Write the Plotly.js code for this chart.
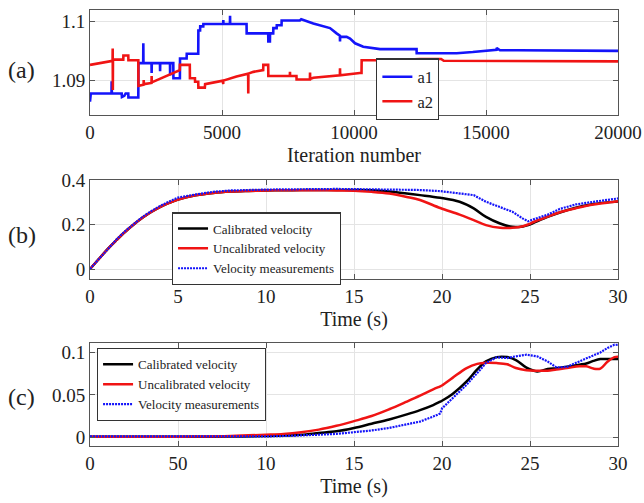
<!DOCTYPE html>
<html>
<head>
<meta charset="utf-8">
<script src="https://cdn.plot.ly/plotly-3.0.1.min.js"></script>
<style>html,body{margin:0;padding:0;background:#fff;}#chart{width:644px;height:503px;}</style>
</head>
<body>
<div id="chart"></div>
<script>
// ---------- Panel (a): parameter estimates vs iteration ----------
const iterA1 = [0,30,815,820,830,1200,1210,1300,1350,1450,1455,1830,1835,2015,2020,2025,2330,2335,2340,2650,2655,2660,3030,3035,3040,3155,3160,3405,3410,3660,3665,4100,4105,4170,4175,4290,4295,5045,5050,5055,5300,5305,5310,5930,5935,6750,6755,6815,6820,6940,6945,7070,7075,7255,7260,7950,8000,8460,9090,9340,9465,9470,9475,9720,9850,10040,10350,10985,12370,12375,13890,14500,15400,15405,15530,16200,17000,20000];
const a1Values = [1.0863,1.0877,1.0877,1.0898,1.0877,1.0877,1.0871,1.0873,1.0877,1.0877,1.0870,1.0870,1.0929,1.0929,1.0963,1.0929,1.0929,1.0912,1.0929,1.0929,1.0915,1.0929,1.0929,1.0908,1.0929,1.0929,1.0903,1.0903,1.0937,1.0937,1.0945,1.0945,1.0985,1.0985,1.0992,1.0992,1.0996,1.0996,1.1003,1.0996,1.0996,1.1010,1.0996,1.0996,1.0980,1.0980,1.0966,1.0966,1.0980,1.0980,1.0989,1.0989,1.0994,1.0994,1.1002,1.1002,1.1004,1.0997,1.0989,1.0980,1.0976,1.0966,1.0974,1.0974,1.0971,1.0963,1.0957,1.0953,1.0953,1.0946,1.0946,1.0948,1.0952,1.0955,1.0951,1.0951,1.0951,1.0950];
const iterA2 = [0,800,855,860,865,870,1260,1265,1450,1455,1830,1835,2030,2035,2040,2330,2335,2340,3400,3405,3780,3785,3975,3980,4100,4105,4350,4360,5040,5045,5050,5550,5990,5995,6000,6190,6500,6560,6565,6750,6755,7570,7575,7580,7820,7825,8330,8335,8340,8460,9465,9470,9475,10220,10285,10290,11500,12500,13300,13400,16000,17000,20000];
const a2Values = [1.0926,1.0932,1.0933,1.0954,1.0883,1.0935,1.0935,1.0942,1.0942,1.0934,1.0934,1.0890,1.0892,1.0900,1.0893,1.0895,1.0907,1.0896,1.0917,1.0926,1.0926,1.0903,1.0903,1.0897,1.0897,1.0887,1.0887,1.0893,1.0899,1.0893,1.0899,1.0906,1.0911,1.0877,1.0911,1.0914,1.0917,1.0917,1.0926,1.0926,1.0907,1.0907,1.0914,1.0907,1.0907,1.0901,1.0901,1.0913,1.0902,1.0904,1.0908,1.0920,1.0908,1.0912,1.0912,1.0934,1.0934,1.0936,1.0936,1.0933,1.0933,1.0932,1.0932];
const iterTicks = [0,5000,10000,15000,20000];
const iterTickText = ["0","5000","10000","15000","20000"];
const aTicks = [1.09,1.1];
const aTickText = ["1.09","1.1"];

// ---------- Panel (b) ----------
const timeB = [0,0.5,1,1.5,2,2.5,3,3.5,4,4.5,5,6,7,8,9,10,11,12,13,14,15,16,17,18,18.75,19.9,21,21.8,22.5,23.3,24,24.6,24.9,25.2,26,26.7,27.6,28.6,29.8,30];
const calibB = [0,0.045,0.09,0.13,0.168,0.202,0.232,0.258,0.28,0.298,0.313,0.332,0.343,0.349,0.352,0.354,0.355,0.356,0.356,0.356,0.356,0.355,0.349,0.34,0.333,0.321,0.303,0.273,0.235,0.205,0.19,0.192,0.198,0.208,0.235,0.255,0.276,0.293,0.303,0.304];
const uncalB = [0,0.045,0.09,0.13,0.168,0.202,0.232,0.258,0.28,0.298,0.313,0.332,0.343,0.349,0.352,0.354,0.355,0.355,0.355,0.354,0.353,0.348,0.34,0.325,0.311,0.275,0.245,0.22,0.198,0.186,0.186,0.193,0.201,0.212,0.236,0.256,0.274,0.291,0.303,0.306];
const measB = [0,0.046,0.092,0.133,0.171,0.205,0.236,0.262,0.285,0.304,0.322,0.336,0.348,0.354,0.357,0.358,0.359,0.361,0.36,0.361,0.361,0.36,0.358,0.357,0.356,0.351,0.341,0.333,0.303,0.28,0.258,0.227,0.215,0.224,0.245,0.271,0.291,0.303,0.315,0.318];
const bTicksX = [0,5,10,15,20,25,30];
const bTicksY = [0,0.2,0.4];
const bTickTextY = ["0","0.2","0.4"];

// ---------- Panel (c) ----------
const timeC = [0,2,4,6,8,10,11,12,13,14,15,16,17,18,18.75,19.5,19.9,20,20.6,21.4,22,22.5,23.1,23.7,24.2,24.8,25.4,26,26.5,27.1,27.8,28.2,28.6,29,29.4,29.8,30];
const calibC = [0.0005,0.0005,0.0005,0.0005,0.0008,0.0015,0.002,0.003,0.005,0.007,0.011,0.016,0.021,0.027,0.032,0.038,0.042,0.043,0.051,0.0658,0.08,0.0895,0.0945,0.0945,0.091,0.082,0.0776,0.0804,0.0815,0.083,0.0855,0.087,0.09,0.0922,0.0922,0.0922,0.0922];
const uncalC = [0.0005,0.0005,0.0005,0.0008,0.0015,0.003,0.004,0.006,0.009,0.0135,0.019,0.025,0.033,0.042,0.049,0.0565,0.06,0.061,0.07,0.0816,0.0865,0.0878,0.0875,0.086,0.0816,0.079,0.0784,0.0784,0.08,0.0816,0.0836,0.0836,0.081,0.081,0.089,0.0945,0.095];
const measC = [0.001,0.001,0.0005,0.001,0.001,0.001,0.0015,0.002,0.003,0.004,0.006,0.008,0.011,0.015,0.0185,0.0244,0.028,0.034,0.046,0.062,0.0757,0.0875,0.0942,0.0934,0.0954,0.0973,0.0954,0.0894,0.0823,0.083,0.0894,0.093,0.0973,0.1,0.1052,0.1091,0.109];
const cTicksX = [0,5,10,15,20,25,30];
const cTickTextX = ["0","50","10","15","20","25","30"];
const cTicksY = [0,0.05,0.1];
const cTickTextY = ["0","0.05","0.1"];

const legendNames = ["Calibrated velocity","Uncalibrated velocity","Velocity measurements"];
const seriesNamesA = ["a1","a2"];

const FONT = "Liberation Serif";
const BLUE = "rgb(20,20,250)";
const RED = "rgb(240,20,20)";
const BLACK = "#000000";
const DOTS = "2px,1px";

const traces = [
  {x: iterA1, y: a1Values, name: seriesNamesA[0], mode: "lines", line: {color: BLUE, width: 2.6}, xaxis: "x", yaxis: "y", legend: "legend"},
  {x: iterA2, y: a2Values, name: seriesNamesA[1], mode: "lines", line: {color: RED, width: 2.6}, xaxis: "x", yaxis: "y", legend: "legend"},
  {x: timeB, y: calibB, name: legendNames[0], mode: "lines", line: {color: BLACK, width: 2.5, shape: "spline"}, xaxis: "x2", yaxis: "y2", legend: "legend2"},
  {x: timeB, y: uncalB, name: legendNames[1], mode: "lines", line: {color: RED, width: 2.5, shape: "spline"}, xaxis: "x2", yaxis: "y2", legend: "legend2"},
  {x: timeB, y: measB, name: legendNames[2], mode: "lines", line: {color: BLUE, width: 2.2, dash: DOTS}, xaxis: "x2", yaxis: "y2", legend: "legend2"},
  {x: timeC, y: calibC, name: legendNames[0], mode: "lines", line: {color: BLACK, width: 2.5, shape: "spline"}, xaxis: "x3", yaxis: "y3", legend: "legend3"},
  {x: timeC, y: uncalC, name: legendNames[1], mode: "lines", line: {color: RED, width: 2.5, shape: "spline"}, xaxis: "x3", yaxis: "y3", legend: "legend3"},
  {x: timeC, y: measC, name: legendNames[2], mode: "lines", line: {color: BLUE, width: 2.2, dash: DOTS}, xaxis: "x3", yaxis: "y3", legend: "legend3"}
];

function axisBase(extra) {
  return Object.assign({
    showline: true, linecolor: "#555", linewidth: 1, mirror: "ticks",
    ticks: "inside", ticklen: 5, tickcolor: "#555",
    showgrid: true, gridcolor: "#e4e4e4", gridwidth: 1, zeroline: false,
    tickfont: {family: FONT, size: 19, color: "#222"}, tickmode: "array"
  }, extra);
}
const titleFont = {family: FONT, size: 20, color: "#222"};
const legendBase = {bgcolor: "#ffffff", bordercolor: "#333", borderwidth: 1.2, xanchor: "left", yanchor: "top", tracegroupgap: 0};

const layout = {
  width: 644, height: 503,
  margin: {l: 90, r: 26, t: 10, b: 57},
  paper_bgcolor: "#ffffff", plot_bgcolor: "#ffffff",
  showlegend: true,
  font: {family: FONT, size: 19, color: "#222"},
  xaxis: axisBase({domain: [0, 1], anchor: "y", range: [0, 20000], tickvals: iterTicks, ticktext: iterTickText,
    title: {text: "Iteration number", font: titleFont, standoff: 6}}),
  yaxis: axisBase({domain: [0.759, 1], anchor: "x", range: [1.0840, 1.1020], tickvals: aTicks, ticktext: aTickText}),
  xaxis2: axisBase({domain: [0, 1], anchor: "y2", range: [0, 30], tickvals: bTicksX, ticktext: bTicksX.map(String),
    title: {text: "Time (s)", font: titleFont, standoff: 6}}),
  yaxis2: axisBase({domain: [0.383, 0.610], anchor: "x2", range: [-0.045, 0.401], tickvals: bTicksY, ticktext: bTickTextY}),
  xaxis3: axisBase({domain: [0, 1], anchor: "y3", range: [0, 30], tickvals: cTicksX, ticktext: cTickTextX,
    title: {text: "Time (s)", font: titleFont, standoff: 6}}),
  yaxis3: axisBase({domain: [0, 0.236], anchor: "x3", range: [-0.0103, 0.111], tickvals: cTicksY, ticktext: cTickTextY}),
  legend: Object.assign({}, legendBase, {x: 0.542, y: 0.889, font: {family: FONT, size: 16.5, color: "#222"}}),
  legend2: Object.assign({}, legendBase, {x: 0.155, y: 0.536, font: {family: FONT, size: 13, color: "#222"}}),
  legend3: Object.assign({}, legendBase, {x: 0.013, y: 0.2245, font: {family: FONT, size: 13, color: "#222"}}),
  annotations: [
    {text: "(a)", xref: "paper", yref: "paper", x: -0.129, y: 0.862, showarrow: false, xanchor: "center", yanchor: "middle", font: {family: FONT, size: 24, color: "#222"}},
    {text: "(b)", xref: "paper", yref: "paper", x: -0.129, y: 0.484, showarrow: false, xanchor: "center", yanchor: "middle", font: {family: FONT, size: 24, color: "#222"}},
    {text: "(c)", xref: "paper", yref: "paper", x: -0.129, y: 0.112, showarrow: false, xanchor: "center", yanchor: "middle", font: {family: FONT, size: 24, color: "#222"}}
  ]
};

Plotly.newPlot("chart", traces, layout, {displayModeBar: false, staticPlot: true});
</script>
</body>
</html>
